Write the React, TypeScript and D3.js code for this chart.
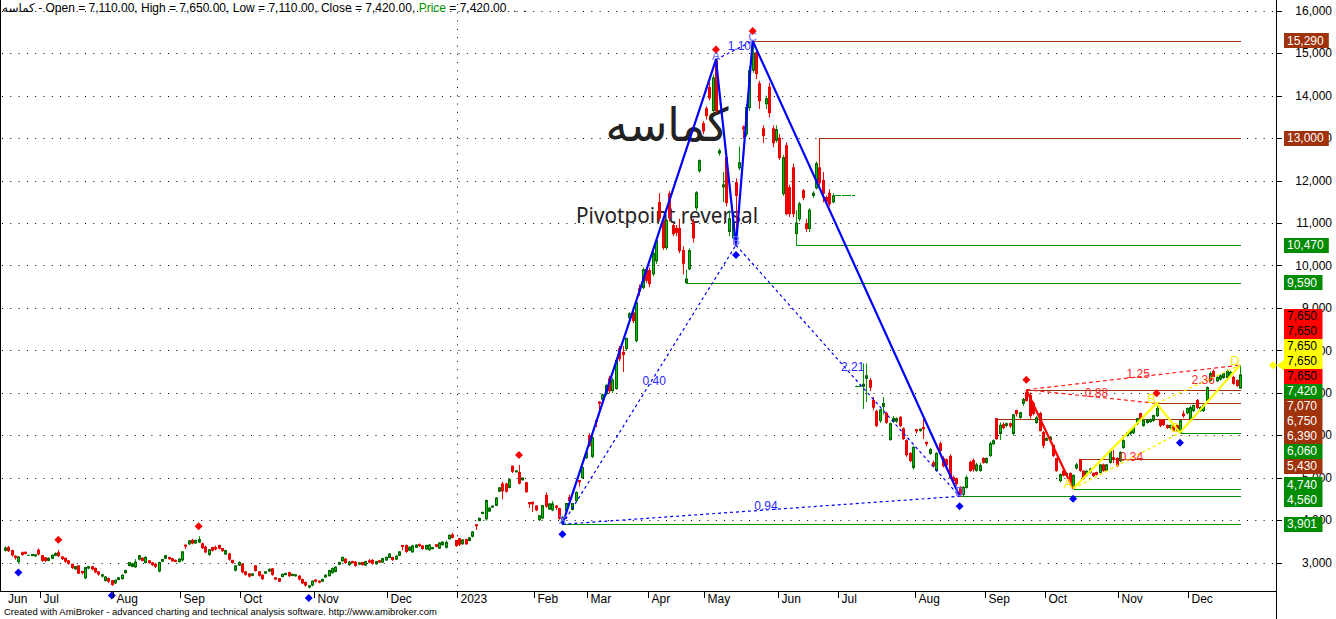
import { useEffect, useRef } from 'react';
import * as d3 from 'd3';

// one daily bar: [open, close, high, low]
type Bar = [number, number, number, number];

const jun22: Bar[] = [
  [3290, 3340, 3380, 3270], [3350, 3280, 3390, 3260], [3280, 3180, 3300, 3150], [3150, 3120, 3170, 3080],
  [3020, 3130, 3150, 3000], [3230, 3190, 3260, 3170], [3240, 3220, 3260, 3200], [3180, 3180, 3190, 3170],
  [3170, 3190, 3200, 3160], [3160, 3180, 3200, 3140], [3290, 3200, 3330, 3180],
];
const jul22: Bar[] = [
  [3160, 3050, 3180, 3030], [3110, 3050, 3130, 3020], [3050, 3100, 3120, 3040], [3100, 3170, 3190, 3090],
  [3170, 3210, 3240, 3160], [3230, 3160, 3300, 3140], [3130, 3090, 3150, 3070], [3100, 3030, 3110, 3000],
  [3040, 2980, 3060, 2960], [2960, 2880, 2970, 2860], [2850, 2900, 2920, 2840], [2920, 2750, 2940, 2740],
  [2790, 2760, 2800, 2730], [2640, 2880, 2890, 2620], [2870, 2900, 2920, 2850], [2900, 2850, 2920, 2830],
  [2860, 2780, 2880, 2760], [2780, 2730, 2790, 2700], [2680, 2710, 2730, 2660], [2580, 2660, 2680, 2560],
  [2620, 2560, 2640, 2530], [2570, 2480, 2590, 2460],
];
const aug22: Bar[] = [
  [2520, 2580, 2600, 2500], [2600, 2640, 2660, 2590], [2620, 2700, 2720, 2610], [2760, 2810, 2830, 2750],
  [2930, 3000, 3010, 2920], [2910, 2970, 2990, 2900], [2900, 3010, 3080, 2880], [3080, 3160, 3180, 3060],
  [3100, 3050, 3120, 3040], [3000, 3120, 3150, 2990], [3040, 3000, 3060, 2980], [2990, 2950, 3010, 2930],
  [2960, 2910, 2980, 2880], [2800, 3000, 3020, 2780], [3030, 3070, 3090, 3020], [3100, 3160, 3180, 3090],
  [3120, 3090, 3130, 3070], [3090, 3040, 3100, 3030], [3050, 3030, 3070, 3020], [3020, 3080, 3100, 3010],
];
const sep22: Bar[] = [
  [3060, 3250, 3270, 3040], [3410, 3390, 3420, 3330], [3440, 3510, 3530, 3420], [3520, 3460, 3560, 3440],
  [3460, 3520, 3540, 3450], [3480, 3540, 3620, 3470], [3440, 3350, 3470, 3330], [3360, 3250, 3400, 3230],
  [3190, 3300, 3310, 3170], [3350, 3290, 3370, 3270], [3350, 3320, 3400, 3300], [3400, 3340, 3420, 3320],
  [3330, 3280, 3340, 3260], [3200, 3280, 3300, 3190], [3200, 3080, 3230, 3060], [3050, 3000, 3060, 2980],
  [2820, 2920, 2940, 2800], [2940, 3000, 3030, 2930],
];
const oct22: Bar[] = [
  [2960, 2780, 2980, 2760], [2780, 2720, 2800, 2700], [2730, 2680, 2750, 2660], [2700, 2730, 2750, 2690],
  [2920, 2810, 2940, 2800], [2780, 2700, 2800, 2680], [2700, 2620, 2720, 2600], [2750, 2780, 2790, 2740],
  [2800, 2840, 2860, 2790], [2850, 2720, 2870, 2700], [2640, 2610, 2650, 2600], [2620, 2560, 2630, 2550],
  [2670, 2720, 2740, 2660], [2720, 2740, 2760, 2710], [2760, 2690, 2780, 2670], [2700, 2720, 2740, 2690],
  [2690, 2710, 2720, 2680], [2680, 2610, 2700, 2590], [2600, 2520, 2620, 2500], [2530, 2470, 2550, 2440],
  [2420, 2450, 2470, 2400], [2470, 2560, 2580, 2450],
];
const nov22: Bar[] = [
  [2590, 2560, 2600, 2540], [2560, 2540, 2580, 2520], [2560, 2600, 2620, 2550], [2660, 2700, 2720, 2650],
  [2690, 2810, 2830, 2680], [2760, 2860, 2880, 2750], [2790, 2890, 2910, 2780], [2960, 3000, 3020, 2950],
  [3040, 3120, 3140, 3030], [3080, 3000, 3100, 2980], [2950, 3010, 3030, 2930], [3020, 3000, 3040, 2990],
  [3010, 2930, 3030, 2910], [2960, 2990, 3010, 2950], [3000, 2950, 3010, 2940], [2940, 3020, 3040, 2930],
  [3040, 3010, 3080, 3000], [3050, 2980, 3080, 2960], [2970, 3020, 3040, 2960], [3040, 3010, 3060, 3000],
  [3010, 3090, 3110, 3000], [3060, 3120, 3140, 3050],
];
const dec22: Bar[] = [
  [3120, 3200, 3220, 3110], [3120, 3070, 3130, 3050], [3080, 3150, 3170, 3070], [3170, 3250, 3270, 3160],
  [3400, 3390, 3400, 3300], [3400, 3260, 3420, 3240], [3290, 3360, 3380, 3280], [3250, 3390, 3420, 3240],
  [3360, 3410, 3430, 3350], [3420, 3400, 3450, 3380], [3390, 3330, 3410, 3310], [3320, 3400, 3420, 3310],
  [3300, 3410, 3440, 3290], [3330, 3350, 3370, 3320], [3420, 3380, 3430, 3370], [3340, 3460, 3480, 3330],
  [3420, 3480, 3500, 3410], [3360, 3470, 3520, 3340], [3560, 3640, 3660, 3550], [3650, 3590, 3700, 3580],
  [3520, 3400, 3530, 3380],
];
const jan23: Bar[] = [
  [3560, 3430, 3570, 3400], [3440, 3530, 3550, 3430], [3540, 3440, 3560, 3430], [3520, 3580, 3600, 3510],
  [3620, 3720, 3740, 3600], [3890, 3880, 3900, 3780], [3990, 4040, 4060, 3980], [4160, 4180, 4200, 4150],
  [4030, 4460, 4480, 4000], [4210, 4280, 4300, 4200], [4310, 4330, 4340, 4300], [4350, 4520, 4540, 4340],
  [4680, 4760, 4780, 4670], [4850, 4690, 4900, 4500], [4850, 4680, 4880, 4660], [4770, 4950, 4980, 4760],
  [5270, 5150, 5280, 5120], [5150, 5160, 5170, 5140], [5120, 4870, 5300, 4850], [4950, 4990, 5000, 4940],
  [4880, 4670, 4890, 4650], [4410, 4400, 4420, 4300], [4420, 4380, 4430, 4200],
];
const feb23: Bar[] = [
  [4330, 4240, 4350, 4220], [4010, 4100, 4120, 3990], [4050, 4340, 4360, 4030], [4580, 4330, 4650, 4300],
  [4260, 4380, 4400, 4250], [4240, 4380, 4450, 4220], [4330, 4300, 4350, 4250], [4270, 4040, 4290, 4020],
  [3930, 4060, 4100, 3901], [4220, 4390, 4400, 4200], [4530, 4460, 4600, 4420], [4250, 4390, 4400, 4240],
  [4460, 4650, 4680, 4450], [4930, 4900, 4940, 4800], [5000, 5240, 5260, 4990], [5470, 5590, 5620, 5450],
];
const mar23: Bar[] = [
  [5990, 5760, 6050, 5740], [5500, 5940, 5980, 5470], [6350, 6330, 6360, 6200], [6780, 6750, 6800, 6500],
  [6850, 6950, 6980, 6800], [6980, 7170, 7200, 6950], [7330, 7050, 7400, 7000], [7050, 7300, 7350, 7000],
  [7100, 7760, 7800, 7080], [8040, 7800, 8100, 7750], [7950, 7900, 8100, 7500], [8040, 8280, 8300, 8000],
  [8770, 8860, 8900, 8750], [8880, 8700, 8950, 8650], [8230, 9120, 9150, 8200], [9450, 9400, 9550, 9300],
  [9480, 9900, 9950, 9450], [9900, 9650, 9950, 9600],
];
const apr23: Bar[] = [
  [9880, 9570, 9950, 9500], [9800, 10280, 10350, 9750], [10110, 10580, 10650, 10050], [11480, 11120, 11700, 11050],
  [11060, 10420, 11150, 10380], [10420, 11060, 11100, 10380], [11690, 11120, 11750, 11050], [10940, 10750, 11000, 10700],
  [10870, 10780, 10950, 10700], [10870, 10350, 11100, 10300], [10350, 10050, 10450, 9800], [9600, 9680, 9900, 9590],
  [9920, 10350, 10400, 9900], [11000, 10650, 11100, 10550], [11360, 11710, 11750, 11300], [12230, 12470, 12500, 12200],
  [13340, 13170, 13400, 13100],
];
const may23: Bar[] = [
  [13690, 13530, 13750, 13450], [14190, 13950, 14400, 13900], [13650, 14420, 14500, 13600], [14820, 13650, 14850, 13600],
  [12650, 12700, 12750, 12600], [11850, 11900, 12200, 11500], [12540, 11480, 12600, 11400], [10800, 11100, 11300, 10700],
  [10650, 11000, 11100, 10600], [11950, 11650, 12050, 10480], [12300, 12420, 12800, 12250], [13260, 13220, 13300, 13000],
  [13100, 13720, 13800, 13050], [13720, 14590, 14700, 13650], [14600, 15000, 15290, 14550], [15010, 14520, 15100, 14400],
  [14280, 13880, 14350, 13700], [13220, 13060, 13300, 12900], [13810, 13930, 14000, 13700], [14200, 13600, 14300, 13500],
  [13220, 12890, 13300, 12800], [12950, 13200, 13300, 12900],
];
const jun23: Bar[] = [
  [13000, 12540, 13100, 12500], [11690, 12540, 12600, 11650], [12820, 11220, 12900, 11200], [11830, 11220, 11900, 11150],
  [12300, 11220, 12400, 11150], [10750, 11000, 11300, 10470], [11100, 11450, 11500, 11050], [11760, 11600, 11800, 11550],
  [10980, 10870, 11100, 10800], [10870, 11300, 11350, 10800], [11650, 11700, 11750, 11600], [11830, 12400, 12450, 11800],
  [12300, 11950, 13000, 11900], [12000, 11700, 12200, 11500], [11600, 11500, 11650, 11450], [11700, 11450, 11800, 11400],
  [11500, 11640, 11700, 11480], [11650, 11650, 11650, 11650],
];
const jul23: Bar[] = [
  [11650, 11650, 11650, 11650], [11650, 11650, 11650, 11650], [11650, 11650, 11650, 11650], [11650, 11650, 11650, 11650],
  [11650, 11650, 11650, 11650], [7170, 7170, 7170, 7170], [7170, 7170, 7170, 7170], [7150, 7200, 7690, 6630],
  [7340, 7400, 7690, 6790], [7290, 7130, 7350, 7050], [6820, 6660, 6900, 6600], [6560, 6230, 6600, 6200],
  [6345, 6596, 6620, 6300], [6680, 6745, 6900, 6500], [6510, 6305, 6550, 6280], [5900, 6270, 6300, 5880],
  [6330, 6390, 6450, 6300], [6330, 6390, 6420, 6300], [6420, 6230, 6450, 6200], [6150, 5920, 6180, 5900],
  [5870, 5540, 5900, 5500], [5570, 5400, 5600, 5380], [5240, 5710, 5750, 5200],
];
const aug23: Bar[] = [
  [6130, 6100, 6150, 6050], [6110, 6140, 6160, 6090], [6180, 6150, 6390, 5920], [5830, 5800, 5850, 5750],
  [5570, 5660, 5700, 5550], [5350, 5280, 5400, 5250], [5170, 5570, 5600, 5150], [5800, 5640, 5850, 5600],
  [5450, 5280, 5500, 5250], [5420, 5300, 5450, 5250], [5500, 5000, 5550, 4980], [5000, 4930, 5050, 4900],
  [4980, 4860, 5000, 4820], [4770, 4600, 4800, 4560], [4600, 4770, 4800, 4580], [4770, 5000, 5050, 4750],
  [5360, 5170, 5400, 5150], [5400, 5200, 5450, 5150], [5170, 5300, 5350, 5150], [5170, 5280, 5350, 5150],
  [5450, 5360, 5480, 5340],
];
const sep23: Bar[] = [
  [5360, 5450, 5480, 5340], [5520, 5800, 5850, 5500], [5800, 5870, 5900, 5780], [6390, 5920, 6390, 5900],
  [6040, 6230, 6300, 5900], [6250, 6180, 6300, 6150], [6230, 6270, 6300, 6200], [6270, 6220, 6300, 6180],
  [6040, 6480, 6500, 6000], [6580, 6510, 6600, 6450], [6420, 6530, 6550, 6400], [6750, 6840, 6880, 6700],
  [7000, 6820, 7070, 6800], [6930, 6460, 7000, 6400], [6750, 6510, 6800, 6480], [6300, 6410, 6450, 6280],
  [6510, 6110, 6550, 6100], [6060, 5760, 6100, 5700],
];
const oct23: Bar[] = [
  [5880, 5920, 5950, 5870], [5900, 5950, 5980, 5880], [5760, 5520, 5780, 5500], [5450, 5170, 5470, 5150],
  [4930, 5070, 5100, 4900], [5150, 5060, 5180, 5040], [5050, 5100, 5130, 5030], [5100, 4890, 5120, 4870],
  [4760, 5050, 5080, 4740], [5230, 5300, 5350, 5200], [5430, 5170, 5430, 5150], [5150, 4980, 5170, 4960],
  [5060, 5150, 5170, 5040], [5130, 5200, 5230, 5110], [5100, 5050, 5120, 5030], [5120, 5080, 5140, 5060],
  [5120, 5300, 5320, 5100], [5300, 5170, 5330, 5150], [5170, 5300, 5320, 5150], [5360, 5620, 5650, 5340],
  [5470, 5450, 5650, 5350], [5450, 5280, 5480, 5260],
];
const nov23: Bar[] = [
  [5400, 5590, 5620, 5380], [5710, 5870, 5900, 5690], [5990, 6060, 6080, 5980], [6040, 6110, 6130, 6020],
  [6060, 6180, 6200, 6040], [6270, 6390, 6410, 6250], [6510, 6390, 6530, 6370], [6230, 6350, 6370, 6210],
  [6300, 6350, 6370, 6280], [6320, 6370, 6390, 6300], [6350, 6460, 6480, 6330], [6460, 6630, 6750, 6440],
  [6350, 6230, 6380, 6200], [6350, 6250, 6370, 6230], [6230, 6180, 6250, 6160], [6180, 6230, 6250, 6160],
  [6230, 6110, 6250, 6090], [6230, 6110, 6260, 6090], [6060, 6340, 6360, 6060], [6500, 6460, 6580, 6420],
  [6530, 6630, 6650, 6500],
];
const dec23: Bar[] = [
  [6390, 6650, 6700, 6380], [6580, 6700, 6720, 6560], [6820, 6650, 6850, 6630], [6580, 6650, 6680, 6560],
  [6580, 6700, 6720, 6560], [6820, 7120, 7150, 6800], [7290, 7450, 7500, 7270], [7500, 7380, 7550, 7350],
  [7280, 7360, 7400, 7260], [7320, 7400, 7430, 7300], [7360, 7450, 7480, 7340], [7360, 7500, 7550, 7340],
  [7400, 7480, 7520, 7380], [7360, 7220, 7400, 7200], [7290, 7170, 7310, 7150], [7110, 7420, 7650, 7110],
];

const monthLabels = ['Jun', 'Jul', 'Aug', 'Sep', 'Oct', 'Nov', 'Dec', '2023', 'Feb', 'Mar', 'Apr', 'May',
  'Jun', 'Jul', 'Aug', 'Sep', 'Oct', 'Nov', 'Dec'];
const monthBars = [jun22, jul22, aug22, sep22, oct22, nov22, dec22, jan23, feb23, mar23, apr23, may23,
  jun23, jul23, aug23, sep23, oct23, nov23, dec23];

const priceTicks = [3000, 4000, 5000, 6000, 7000, 8000, 9000, 10000, 11000, 12000, 13000, 14000, 15000, 16000];

// swing points (bar index)
const pivotHighBars = [16, 58, 154, 213, 224, 306, 345];
const pivotLowBars = [4, 32, 91, 167, 219, 286, 320, 352];

// big XABCD pattern (blue)
const bigNames = ['X', 'A', 'B', 'C', 'D'];
const bigBars = [167, 213, 219, 224, 286];
const bigPrices = [3901, 14850, 10480, 15290, 4560];
const bigRatios: [number, number, string][] = [[0, 2, '0.40'], [1, 3, '1.10'], [2, 4, '2.21'], [0, 4, '0.94']];

// small XABCD pattern (red / yellow)
const smallNames = ['', 'A', 'B', 'C', 'D'];
const smallBars = [306, 320, 345, 352, 370];
const smallPrices = [7070, 4740, 6750, 6060, 7650];
const smallRatios: [number, number, string][] = [[0, 2, '0.88'], [0, 4, '1.25'], [1, 3, '0.34'], [2, 4, '2.36']];

// support / resistance levels
const levelPrices = [15290, 13000, 10470, 9590, 7070, 6750, 6390, 6060, 5430, 4740, 4560, 3901];
const levelFromBars = [224, 244, 237, 204, 306, 345, 297, 352, 322, 320, 286, 167];
const levelKinds = ['res', 'res', 'sup', 'sup', 'res', 'res', 'res', 'sup', 'res', 'sup', 'sup', 'sup'];

// value boxes on the price axis
const markValues = [15290, 13000, 10470, 9590, 7650, 7650, 7650, 7650, 7650, 7420, 7070, 6750, 6390, 6060, 5430, 4740, 4560, 3901];
const markKinds = ['res', 'res', 'sup', 'sup', 'hi', 'hi', 'yl', 'arrow', 'hi', 'sup', 'res', 'res', 'res', 'sup', 'res', 'sup', 'sup', 'sup'];

const ticker = 'کماسه';

const BROWN = '#a0320c';
const GREEN = '#008c00';
const FONT = '"Liberation Sans", Arial, "DejaVu Sans", sans-serif';

export default function App() {
  const ref = useRef<SVGSVGElement>(null);

  useEffect(() => {
    if (!ref.current) return;
    const svg = d3.select(ref.current);
    svg.selectAll('*').remove();

    const width = 1336;
    const height = 619;
    const plotRight = 1276;
    const axisY = 591;
    svg.attr('width', width).attr('height', height).style('background', '#fff');

    const bars: Bar[] = monthBars.flat();
    const n = bars.length;
    const x = d3.scaleLinear().domain([0, n - 1]).range([5, 1240]);
    const y = d3.scaleLinear().domain([3000, 16000]).range([562.5, 10.8]);
    const step = x(1) - x(0);
    const starts = [0, ...Array.from(d3.cumsum(monthBars, (m) => m.length))].slice(0, monthBars.length);

    // grid
    const grid = svg.append('g').attr('stroke', '#000').attr('stroke-dasharray', '1,7.3');
    grid.selectAll('line.h').data(priceTicks).join('line')
      .attr('x1', 2).attr('x2', plotRight)
      .attr('y1', (d) => Math.round(y(d)) + 0.5).attr('y2', (d) => Math.round(y(d)) + 0.5);
    const yearX = Math.round(x(starts[7]) - step / 2) + 0.5;
    grid.append('line').attr('x1', yearX).attr('x2', yearX).attr('y1', 4).attr('y2', axisY);

    // watermark texts
    svg.append('text')
      .attr('x', 667).attr('y', 141).attr('text-anchor', 'middle')
      .attr('font-family', '"DejaVu Sans", sans-serif').attr('font-size', 46)
      .attr('fill', '#222').attr('textLength', 123).attr('lengthAdjust', 'spacingAndGlyphs')
      .text(ticker);
    svg.append('text')
      .attr('x', 576).attr('y', 223)
      .attr('font-family', '"Noto Sans", "DejaVu Sans", sans-serif').attr('font-size', 21)
      .attr('fill', '#222').attr('textLength', 182).attr('lengthAdjust', 'spacingAndGlyphs')
      .text('Pivotpoint reversal');

    // support / resistance levels
    svg.append('g').selectAll('line').data(levelPrices).join('line')
      .attr('x1', (_, i) => x(levelFromBars[i])).attr('x2', x(n - 1) + 1)
      .attr('y1', (d) => Math.round(y(d)) + 0.5).attr('y2', (d) => Math.round(y(d)) + 0.5)
      .attr('stroke', (_, i) => (levelKinds[i] === 'res' ? BROWN : GREEN))
      .attr('stroke-width', 1.2);

    // candles
    const cg = svg.append('g');
    const cxOf = (i: number) => Math.round(x(i));
    const isUp = (b: Bar) => b[1] >= b[0];
    cg.selectAll('line.wick').data(bars).join('line')
      .attr('x1', (_, i) => cxOf(i) + 0.5).attr('x2', (_, i) => cxOf(i) + 0.5)
      .attr('y1', (d) => y(d[2])).attr('y2', (d) => y(d[3]) + 0.5)
      .attr('stroke', (d) => (isUp(d) ? '#009400' : '#ff0000'));
    cg.selectAll('rect').data(bars.map((b, i) => ({ b, i })).filter((d) => d.b[0] !== d.b[1])).join('rect')
      .attr('x', (d) => cxOf(d.i) - 0.5).attr('width', 2)
      .attr('y', (d) => Math.min(y(d.b[0]), y(d.b[1])))
      .attr('height', (d) => Math.max(1, Math.abs(y(d.b[0]) - y(d.b[1]))))
      .attr('fill', (d) => (isUp(d.b) ? '#00c400' : '#ff0000'))
      .attr('stroke', (d) => (isUp(d.b) ? '#006400' : '#e80000'))
      .attr('stroke-width', 1);
    cg.selectAll('line.doji').data(bars.map((b, i) => ({ b, i })).filter((d) => d.b[0] === d.b[1])).join('line')
      .attr('x1', (d) => cxOf(d.i) - 1).attr('x2', (d) => cxOf(d.i) + 2)
      .attr('y1', (d) => Math.round(y(d.b[0])) + 0.5).attr('y2', (d) => Math.round(y(d.b[0])) + 0.5)
      .attr('stroke', '#009400');

    const pt = (bi: number, p: number): [number, number] => [x(bi), y(p)];

    // big pattern
    const big = bigBars.map((b, i) => pt(b, bigPrices[i]));
    const pg = svg.append('g');
    bigRatios.forEach(([a, b]) => {
      pg.append('line').attr('x1', big[a][0]).attr('y1', big[a][1]).attr('x2', big[b][0]).attr('y2', big[b][1])
        .attr('stroke', '#0000ff').attr('stroke-width', 1.2).attr('stroke-dasharray', '3,3');
    });
    pg.append('path').attr('d', d3.line()(big)).attr('fill', 'none')
      .attr('stroke', '#0000ff').attr('stroke-width', 2.2).attr('stroke-linejoin', 'round');

    // small pattern
    const sm = smallBars.map((b, i) => pt(b, smallPrices[i]));
    smallRatios.forEach(([a, b]) => {
      const fromX = a === 0;
      pg.append('line').attr('x1', sm[a][0]).attr('y1', sm[a][1]).attr('x2', sm[b][0]).attr('y2', sm[b][1])
        .attr('stroke', fromX ? '#ff2020' : '#f4f400').attr('stroke-width', fromX ? 1.2 : 1.6)
        .attr('stroke-dasharray', fromX ? '4,3' : '3,3');
    });
    pg.append('path').attr('d', d3.line()(sm.slice(0, 2))).attr('fill', 'none')
      .attr('stroke', '#ff0000').attr('stroke-width', 2.2);
    pg.append('path').attr('d', d3.line()(sm.slice(1))).attr('fill', 'none')
      .attr('stroke', '#ffff00').attr('stroke-width', 2.2).attr('stroke-linejoin', 'round');

    // ratio labels
    const ratioText = (pts: [number, number][], list: [number, number, string][], color: string) => {
      pg.selectAll(null).data(list).join('text')
        .attr('x', (d) => (pts[d[0]][0] + pts[d[1]][0]) / 2 + 5)
        .attr('y', (d) => (pts[d[0]][1] + pts[d[1]][1]) / 2 - 4)
        .attr('dy', '0.35em').attr('text-anchor', 'middle')
        .attr('font-family', FONT).attr('font-size', 12).attr('fill', color)
        .text((d) => d[2]);
    };
    ratioText(big, bigRatios, '#2a2aff');
    ratioText(sm, smallRatios, '#ff2a2a');

    // pattern point letters
    pg.selectAll(null).data(bigNames).join('text')
      .attr('x', (_, i) => big[i][0]).attr('y', (_, i) => big[i][1] - 4)
      .attr('dy', '0.35em').attr('text-anchor', 'middle')
      .attr('font-family', FONT).attr('font-size', 12).attr('fill', '#7070ff')
      .text((d) => d);
    pg.selectAll(null).data(smallNames).join('text')
      .attr('x', (_, i) => sm[i][0] - 5).attr('y', (_, i) => sm[i][1] - 5)
      .attr('dy', '0.35em').attr('text-anchor', 'middle')
      .attr('font-family', FONT).attr('font-size', 13).attr('fill', '#eeee00')
      .text((d) => d);

    // pivot diamonds
    const diamond = 'M0,-4L4,0L0,4L-4,0Z';
    pg.selectAll(null).data(pivotHighBars).join('path')
      .attr('d', diamond).attr('fill', '#ff0000')
      .attr('transform', (i) => `translate(${x(i)},${y(bars[i][2]) - 10})`);
    pg.selectAll(null).data(pivotLowBars).join('path')
      .attr('d', diamond).attr('fill', '#0000ff')
      .attr('transform', (i) => `translate(${x(i)},${y(bars[i][3]) + 10})`);

    // frame and axes
    const ax = svg.append('g').attr('stroke', '#000').attr('shape-rendering', 'crispEdges');
    ax.append('line').attr('x1', 0.5).attr('x2', 0.5).attr('y1', 0).attr('y2', axisY);
    ax.append('line').attr('x1', 0).attr('x2', plotRight).attr('y1', axisY + 0.5).attr('y2', axisY + 0.5);
    ax.append('line').attr('x1', plotRight + 0.5).attr('x2', plotRight + 0.5).attr('y1', 0).attr('y2', height);
    ax.selectAll(null).data(priceTicks).join('line')
      .attr('x1', plotRight).attr('x2', plotRight + 6)
      .attr('y1', (d) => Math.round(y(d)) + 0.5).attr('y2', (d) => Math.round(y(d)) + 0.5);
    const monthX = starts.map((s) => Math.round(x(s) - step / 2) + 0.5);
    ax.selectAll(null).data(monthX.slice(1)).join('line')
      .attr('x1', (d) => d).attr('x2', (d) => d).attr('y1', axisY).attr('y2', axisY + 7);

    svg.append('g').selectAll('text').data(monthLabels).join('text')
      .attr('x', (_, i) => (i === 0 ? 8 : monthX[i] + 3)).attr('y', 603)
      .attr('font-family', FONT).attr('font-size', 12).attr('fill', '#000')
      .text((d) => d);

    svg.append('g').selectAll('text').data(priceTicks).join('text')
      .attr('x', 1332).attr('y', (d) => y(d)).attr('dy', '0.35em').attr('text-anchor', 'end')
      .attr('font-family', FONT).attr('font-size', 12).attr('fill', '#000')
      .text((d) => d3.format(',')(d));

    // value boxes, stacked so they do not overlap
    const boxH = 15;
    const marks = markValues.map((v, i) => ({ v, kind: markKinds[i], want: y(v), pos: y(v) }));
    const clusters = marks.map((m) => ({ items: [m], mean: m.want }));
    let merged = true;
    while (merged) {
      merged = false;
      for (let i = 0; i < clusters.length - 1; i++) {
        const a = clusters[i];
        const b = clusters[i + 1];
        const aBottom = a.mean + (a.items.length * boxH) / 2;
        const bTop = b.mean - (b.items.length * boxH) / 2;
        if (aBottom > bTop) {
          const items = a.items.concat(b.items);
          clusters.splice(i, 2, { items, mean: d3.mean(items, (d) => d.want) as number });
          merged = true;
          break;
        }
      }
    }
    clusters.forEach((c) => {
      const top = c.mean - (c.items.length * boxH) / 2;
      c.items.forEach((m, k) => { m.pos = top + k * boxH + boxH / 2; });
    });
    const bgOf = (k: string) => (k === 'res' ? BROWN : k === 'sup' ? GREEN : k === 'hi' ? '#ff0000' : '#ffff00');
    const fgOf = (k: string) => (k === 'res' || k === 'sup' ? '#fff' : '#000');
    const fmt = d3.format(',');
    const mg = svg.append('g');
    marks.forEach((m) => {
      const label = fmt(m.v);
      const w = label.length * 6.3 + 7;
      mg.append('rect').attr('x', 1284).attr('y', Math.round(m.pos - boxH / 2)).attr('width', w).attr('height', boxH)
        .attr('fill', bgOf(m.kind));
      mg.append('text').attr('x', 1287).attr('y', Math.round(m.pos)).attr('dy', '0.36em')
        .attr('font-family', FONT).attr('font-size', 12).attr('fill', fgOf(m.kind)).text(label);
      if (m.kind === 'arrow') {
        const ay = m.want;
        mg.append('path').attr('d', `M1277,${ay}L1285,${ay - 6}L1285,${ay + 6}Z`).attr('fill', '#ffff00');
        mg.append('path').attr('d', diamond).attr('fill', '#ffff00')
          .attr('transform', `translate(1273,${ay})`);
      }
    });

    // title: Persian name as its own text, then the values to its right
    const last = bars[n - 1];
    const f2 = d3.format(',.2f');
    const nameText = svg.append('text').attr('x', 2).attr('y', 12)
      .attr('font-family', FONT).attr('font-size', 12).attr('fill', '#000').text(ticker);
    const nameW = (nameText.node() as SVGTextElement).getComputedTextLength();
    const title = svg.append('text').attr('x', 2 + nameW).attr('y', 12)
      .attr('font-family', FONT).attr('font-size', 12).attr('fill', '#000')
      .attr('xml:space', 'preserve').style('white-space', 'pre');
    title.append('tspan')
      .text(` - Open = ${f2(last[0])}, High = ${f2(last[2])}, Low = ${f2(last[3])}, Close = ${f2(last[1])}, `);
    title.append('tspan').attr('fill', '#009600').text('Price');
    title.append('tspan').text(` = ${f2(last[1])}  .  .`);

    svg.append('text').attr('x', 4).attr('y', 615)
      .attr('font-family', FONT).attr('font-size', 9.5).attr('fill', '#000')
      .attr('textLength', 433).attr('lengthAdjust', 'spacingAndGlyphs')
      .text('Created with AmiBroker - advanced charting and technical analysis software. http://www.amibroker.com');
  }, []);

  return (
    <div style={{ position: 'absolute', left: 0, top: 0 }}>
      <svg ref={ref} />
    </div>
  );
}
